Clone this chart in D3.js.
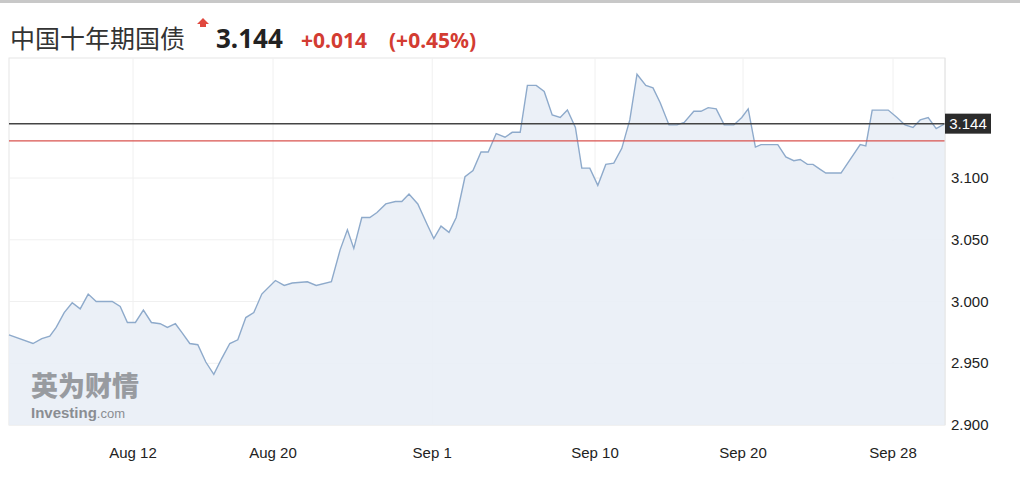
<!DOCTYPE html>
<html><head><meta charset="utf-8">
<script src="https://cdn.jsdelivr.net/npm/d3@7"></script>
<style>body{margin:0;background:#fff;font-family:"Noto Sans CJK SC","Noto Sans",sans-serif}</style>
</head><body><svg id="c" width="1020" height="480"></svg>
<script>
const times=[0,3,4.1,5.1,5.9,6.9,7.9,8.9,9.9,10.9,12.9,13.9,14.8,15.8,16.8,17.8,18.9,19.8,20.8,21.6,22.6,23.6,24.6,25.6,26.6,27.6,28.6,29.6,30.6,31.6,33.3,34.4,35.4,37.3,38.4,40.3,41.4,42.3,43.1,44.1,45.1,46,47.1,48.3,49.1,50,51.1,52.3,53.1,54,55,55.9,57,58,59,59.9,60.9,62,62.9,63.9,64.8,65.9,66.9,67.9,68.9,69.8,70.8,71.6,72.6,73.6,74.6,75.6,76.6,77.6,78.5,79.6,80.5,81.4,82.5,83.5,84.4,85.6,86.5,87.4,88.4,89.4,90.6,91.6,92.4,93.3,94,96.1,97.1,98.1,98.9,99.8,100.5,101.4,102.1,103.1,104,106.4,107.1,107.9,109.9,111,112,113,113.9,114.9,115.9,117];
const yields=[2.973,2.966,2.970,2.972,2.979,2.991,2.999,2.994,3.006,3.000,3.000,2.996,2.983,2.983,2.993,2.983,2.982,2.979,2.982,2.975,2.966,2.965,2.951,2.941,2.954,2.966,2.969,2.987,2.991,3.006,3.017,3.013,3.015,3.016,3.013,3.016,3.042,3.058,3.043,3.068,3.068,3.072,3.079,3.081,3.081,3.087,3.079,3.062,3.051,3.061,3.056,3.068,3.101,3.106,3.121,3.121,3.136,3.133,3.137,3.137,3.175,3.175,3.170,3.151,3.149,3.155,3.141,3.108,3.108,3.094,3.111,3.112,3.124,3.147,3.184,3.175,3.173,3.161,3.143,3.143,3.145,3.154,3.154,3.157,3.156,3.143,3.143,3.149,3.156,3.125,3.127,3.127,3.117,3.114,3.115,3.111,3.111,3.107,3.104,3.104,3.104,3.127,3.126,3.155,3.155,3.149,3.143,3.141,3.147,3.149,3.140,3.144];
const xTickLabels=["Aug 12","Aug 20","Sep 1","Sep 10","Sep 20","Sep 28"];
const xTickPos=[15.5,33,52.9,73.25,91.75,110.5];
const yTicks=[2.900,2.950,3.000,3.050,3.100];
const lastValue=3.144, refValue=3.130;
const title="中国十年期国债", change="+0.014", changePct="(+0.45%)";

const svg=d3.select("#c");
const L=9,R=945,T=58,B=425;
const x=d3.scaleLinear().domain([0,117]).range([L,R]);
const y=d3.scaleLinear().domain([2.9,3.1]).range([B,178]);
svg.append("rect").attr("x",0).attr("y",0).attr("width",1020).attr("height",3).attr("fill","#c8c8c8");
svg.append("rect").attr("x",L).attr("y",T).attr("width",R-L).attr("height",B-T).attr("fill","#fff").attr("stroke","#e6e6e6");
svg.append("g").selectAll("line").data(yTicks).join("line").attr("x1",L).attr("x2",R)
 .attr("y1",d=>y(d)).attr("y2",d=>y(d)).attr("stroke","#f0f0f0");
svg.append("g").selectAll("line").data(xTickPos).join("line").attr("y1",T).attr("y2",B)
 .attr("x1",d=>x(d)).attr("x2",d=>x(d)).attr("stroke","#f0f0f0");
const pts=times.map((t,i)=>[t,yields[i]]);
svg.append("path").datum(pts).attr("fill","#e9eef6").attr("opacity",0.9)
 .attr("d",d3.area().x(d=>x(d[0])).y0(B).y1(d=>y(d[1])));
svg.append("path").datum(pts).attr("fill","none").attr("stroke","#8eaacb").attr("stroke-width",1.4)
 .attr("d",d3.line().x(d=>x(d[0])).y(d=>y(d[1])));
svg.append("line").attr("x1",L).attr("x2",R).attr("y1",y(refValue)).attr("y2",y(refValue)).attr("stroke","#d9534f").attr("stroke-width",1.2);
svg.append("line").attr("x1",L).attr("x2",R).attr("y1",y(lastValue)).attr("y2",y(lastValue)).attr("stroke","#444").attr("stroke-width",1.5);
svg.append("line").attr("x1",R).attr("x2",R).attr("y1",T).attr("y2",B).attr("stroke","#e6e6e6");
// watermark
svg.append("text").attr("x",31).attr("y",396).attr("font-size",27).attr("font-weight",900).attr("fill","#8a8d92").attr("opacity",0.85).text("英为财情");
svg.append("text").attr("x",31).attr("y",418).attr("font-family","Liberation Sans").attr("font-size",15).attr("font-weight",700).attr("fill","#8a8d92").text("Investing")
 .append("tspan").attr("font-weight",400).attr("font-size",13).text(".com");
const fmt=d3.format(".3f");
svg.append("g").selectAll("text").data(yTicks).join("text").attr("x",951).attr("y",d=>y(d)+5)
 .attr("font-family","Liberation Sans").attr("font-size",15).attr("fill","#222").text(d=>fmt(d));
svg.append("g").selectAll("text").data(xTickPos).join("text").attr("x",d=>x(d)).attr("y",458)
 .attr("text-anchor","middle").attr("font-family","Liberation Sans").attr("font-size",15).attr("fill","#222").text((d,i)=>xTickLabels[i]);
svg.append("rect").attr("x",945).attr("y",y(lastValue)-10).attr("width",46).attr("height",20).attr("fill","#2b2b2b");
svg.append("text").attr("x",968).attr("y",y(lastValue)+5).attr("text-anchor","middle").attr("font-family","Liberation Sans").attr("font-size",15).attr("fill","#fff").text(fmt(lastValue));
// header
svg.append("text").attr("x",10).attr("y",48).attr("font-size",25).attr("fill","#333").text(title);
svg.append("path").attr("d","M197,24 L203,18 L209,24 Z M200,24 h6 v3 h-6 Z").attr("fill","#e0483e");
svg.append("text").attr("x",216).attr("y",48).attr("font-family","Noto Sans").attr("font-size",26).attr("font-weight",700).attr("fill","#222").text(fmt(lastValue));
svg.append("text").attr("x",301).attr("y",48).attr("font-family","Noto Sans").attr("font-size",21).attr("font-weight",700).attr("fill","#d33c32").text(change);
svg.append("text").attr("x",389).attr("y",48).attr("font-family","Noto Sans").attr("font-size",21).attr("font-weight",700).attr("fill","#d33c32").text(changePct);
</script></body></html>
